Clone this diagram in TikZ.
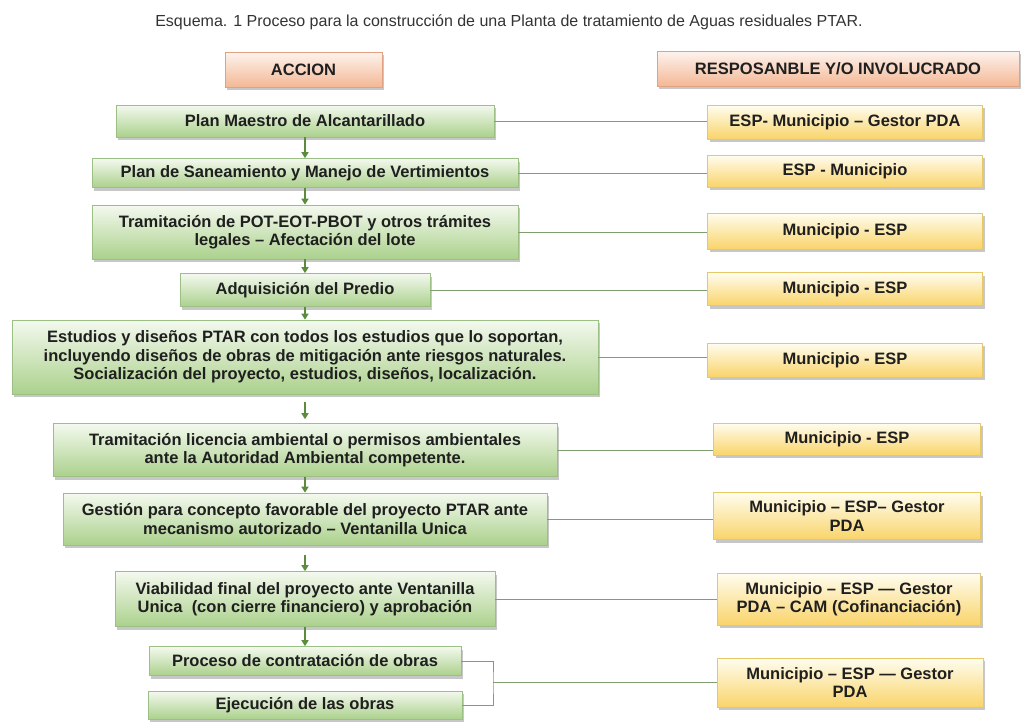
\documentclass[tikz,border=0pt]{standalone}
\usepackage{fontspec}
\setmainfont{Liberation Sans}
\usetikzlibrary{arrows.meta,shadows}

\definecolor{gtop}{HTML}{F4F9EF}
\definecolor{gbot}{HTML}{ABD18C}
\definecolor{gline}{HTML}{9CBF86}
\definecolor{ytop}{HTML}{FFFDF0}
\definecolor{ybot}{HTML}{F9D46A}
\definecolor{yline}{HTML}{E8C766}
\definecolor{stop}{HTML}{FDF3EE}
\definecolor{sbot}{HTML}{F4B895}
\definecolor{sline}{HTML}{E0A283}
\definecolor{arrg}{HTML}{5B8C3B}
\definecolor{conng}{HTML}{7F9F70}

\begin{document}
\begin{tikzpicture}[x=1pt,y=-1pt,
  box/.style={rectangle, inner sep=0pt, align=center,
    font=\fontsize{16.5}{18.5}\selectfont\bfseries, text=black!88,
    drop shadow={shadow xshift=2pt, shadow yshift=-3pt, fill=black!40, opacity=0.55}},
  gbox/.style={box, draw=gline, line width=0.6pt, top color=gtop, bottom color=gbot},
  ybox/.style={box, draw=yline, line width=0.6pt, top color=ytop, bottom color=ybot},
  hbox/.style={box, draw=sline, line width=0.6pt, top color=stop, bottom color=sbot},
  arr/.style={draw=arrg, line width=1.4pt, -{Triangle[width=7pt,length=6pt]}},
  conn/.style={draw=conng, line width=0.9pt}
]
\useasboundingbox (0,0) rectangle (1021,723);

\node[font=\fontsize{16}{18}\selectfont, text=black!80] (title) at (509,22)
  {Esquema. 1 Proceso para la construcción de una Planta de tratamiento de Aguas residuales PTAR.};

% headers
\node[hbox, minimum width=157pt, minimum height=35pt] (hA) at (303.5,69.5) {ACCION};
\node[hbox, minimum width=362pt, minimum height=35pt] (hR) at (838,68.5) {RESPOSANBLE Y/O INVOLUCRADO};

% green column
\node[gbox, minimum width=378pt, minimum height=32pt] (g1) at (305,121) {Plan Maestro de Alcantarillado};
\node[gbox, minimum width=426pt, minimum height=29pt] (g2) at (305,173) {Plan de Saneamiento y Manejo de Vertimientos};
\node[gbox, minimum width=426pt, minimum height=54pt] (g3) at (305,232) {Tramitación de POT-EOT-PBOT y otros trámites\\legales – Afectación del lote};
\node[gbox, minimum width=250pt, minimum height=33pt] (g4) at (305,290) {Adquisición del Predio};
\node[gbox, minimum width=586pt, minimum height=74pt] (g5) at (305,357) {Estudios y diseños PTAR con todos los estudios que lo soportan,\\incluyendo diseños de obras de mitigación ante riesgos naturales.\\Socialización del proyecto, estudios, diseños, localización.};
\node[gbox, minimum width=504pt, minimum height=53pt] (g6) at (305,450) {Tramitación licencia ambiental o permisos ambientales\\ante la Autoridad Ambiental competente.};
\node[gbox, minimum width=484pt, minimum height=52pt] (g7) at (305,519) {Gestión para concepto favorable del proyecto PTAR ante\\mecanismo autorizado – Ventanilla Unica};
\node[gbox, minimum width=380pt, minimum height=55pt] (g8) at (305,599) {Viabilidad final del proyecto ante Ventanilla\\Unica\ \ (con cierre financiero) y aprobación};
\node[gbox, minimum width=312pt, minimum height=29pt] (g9) at (305,661) {Proceso de contratación de obras};
\node[gbox, minimum width=314pt, minimum height=28pt] (g10) at (305,705) {Ejecución de las obras};

% yellow column
\node[ybox, minimum width=275pt, minimum height=34pt] (y1) at (845,122) {ESP- Municipio – Gestor PDA};
\node[ybox, minimum width=275pt, minimum height=32pt] (y2) at (845,171) {ESP - Municipio};
\node[ybox, minimum width=275pt, minimum height=36pt] (y3) at (845,231) {Municipio - ESP};
\node[ybox, minimum width=275pt, minimum height=33pt] (y4) at (845,289) {Municipio - ESP};
\node[ybox, minimum width=275pt, minimum height=34pt] (y5) at (845,360) {Municipio - ESP};
\node[ybox, minimum width=267pt, minimum height=32pt] (y6) at (847,439) {Municipio - ESP};
\node[ybox, minimum width=267pt, minimum height=47pt] (y7) at (847,516) {Municipio – ESP– Gestor\\PDA};
\node[ybox, minimum width=263pt, minimum height=52pt] (y8) at (849,599) {Municipio – ESP — Gestor\\PDA – CAM (Cofinanciación)};
\node[ybox, minimum width=266pt, minimum height=49pt] (y9) at (850,682.5) {Municipio – ESP — Gestor\\PDA};

% flow arrows
\draw[arr] (g1.south) -- (g2.north);
\draw[arr] (g2.south) -- (g3.north);
\draw[arr] (g3.south) -- (g4.north);
\draw[arr] (g4.south) -- (g5.north);
\draw[arr, shorten <=8pt, shorten >=4pt] (g5.south) -- (g6.north);
\draw[arr] (g6.south) -- (g7.north);
\draw[arr, shorten <=10pt] (g7.south) -- (g8.north);
\draw[arr] (g8.south) -- (g9.north);

% connectors to responsibles
\draw[conn] (g1.east) -- (g1.east -| y1.west);
\draw[conn] (g2.east) -- (g2.east -| y2.west);
\draw[conn] (g3.east) -- (g3.east -| y3.west);
\draw[conn] (g4.east) -- (g4.east -| y4.west);
\draw[conn] (g5.east) -- (g5.east -| y5.west);
\draw[conn] (g6.east) -- (g6.east -| y6.west);
\draw[conn] (g7.east) -- (g7.east -| y7.west);
\draw[conn] (g8.east) -- (g8.east -| y8.west);

% bracket for the last two actions
\coordinate (bk) at (493,682.5);
\draw[conn] (g9.east) -| (bk) |- (g10.east);
\draw[conn] (bk) -- (bk -| y9.west);
\end{tikzpicture}
\end{document}
